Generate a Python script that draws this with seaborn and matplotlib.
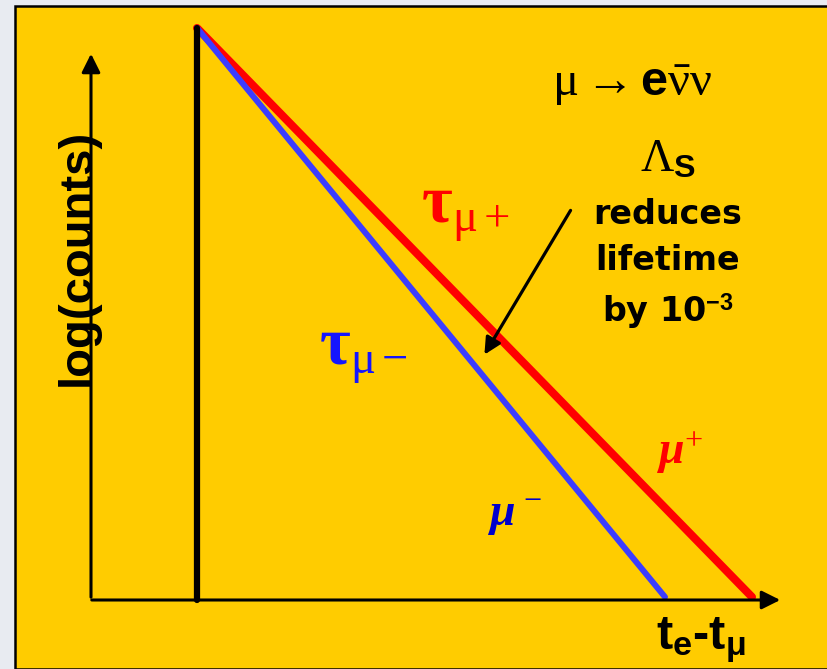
import matplotlib
matplotlib.use("Agg")
import matplotlib.pyplot as plt
from matplotlib.patches import Rectangle
import pandas as pd
import seaborn as sns

# ─── Data ───
decay_time = [0.0, 5.55, 0.0, 4.68]
log_counts = [5.72, 0.03, 5.72, 0.03]
species = ["mu_plus", "mu_plus", "mu_minus", "mu_minus"]
source_time = [0.0, 0.0]
source_counts = [0.0, 5.72]

df = pd.DataFrame({"t": decay_time, "logN": log_counts, "species": species})

YELLOW = "#FFCC00"
RED = "#FF0000"
BLUE = "#3C3CFF"

sns.set_theme(style="white")
plt.rcParams["font.family"] = ["Liberation Sans", "DejaVu Sans"]
plt.rcParams["text.color"] = "black"
plt.rcParams["mathtext.fontset"] = "custom"
plt.rcParams["mathtext.rm"] = "Liberation Serif"
plt.rcParams["mathtext.it"] = "Liberation Serif:italic"
plt.rcParams["mathtext.bf"] = "Liberation Sans:bold"
plt.rcParams["mathtext.bfit"] = "Liberation Serif:italic:bold"
plt.rcParams["mathtext.sf"] = "Liberation Sans"

fig = plt.figure(figsize=(8.27, 6.69), dpi=100)
fig.patch.set_facecolor("#E8EBF1")

# slide panel (drawn below the axes)
panel = Rectangle((15 / 827, 0), 1.0, (669 - 6) / 669, transform=fig.transFigure,
                  facecolor=YELLOW, edgecolor="black", lw=1.8, zorder=-1)
fig.patches.append(panel)

ax = fig.add_axes([0, 0, 1, 1])
ax.set_facecolor("none")

# ─── Decay lines ───
sns.lineplot(data=df[df.species == "mu_plus"], x="t", y="logN", color=RED, lw=5.8,
             ax=ax, legend=False, estimator=None, sort=False, zorder=3)
sns.lineplot(data=df[df.species == "mu_minus"], x="t", y="logN", color=BLUE, lw=4.3,
             ax=ax, legend=False, estimator=None, sort=False, zorder=3)
sns.lineplot(x=source_time, y=source_counts, color="black", lw=4.5, ax=ax,
             estimator=None, sort=False, zorder=4)
ax.set_xlim(-1.97, 6.30)
ax.set_ylim(-0.69, 6.00)
ax.axis("off")

# ─── Axes arrows ───
ax.annotate("", xy=(-1.06, 5.49), xytext=(-1.06, 0.0),
            arrowprops=dict(arrowstyle="-|>", lw=2.2, color="black", mutation_scale=28))
ax.annotate("", xy=(5.86, 0.0), xytext=(-1.08, 0.0),
            arrowprops=dict(arrowstyle="-|>", lw=2.2, color="black", mutation_scale=28))

# ─── Labels ───
ax.text(-1.19, 3.43, "log(counts)", rotation=90, ha="center", va="center",
        fontsize=34, fontweight="bold")
ax.text(5.04, -0.40, r"t$_\mathbf{e}$-t$_\mathbf{\mu}$", ha="center", va="center",
        fontsize=35, fontweight="bold")

ax.text(4.35, 5.15, r"$\mathrm{\mu}\rightarrow\mathbf{e}\mathrm{\bar{\nu}\nu}$",
        ha="center", va="center", fontsize=35)
ax.text(4.71, 4.40, r"$\mathrm{\Lambda}_{\mathbf{S}}$", ha="center", va="center", fontsize=33)
ax.text(4.71, 3.35, "reduces\nlifetime\nby 10$^{\\mathbf{-3}}$", ha="center", va="center",
        fontsize=24, fontweight="bold", family="DejaVu Sans", linespacing=1.5)

ax.text(2.69, 3.86, r"τ$_{\mathrm{\mu+}}$", ha="center", va="center", fontsize=48,
        color=RED, family="Liberation Serif", fontweight="bold")
ax.text(1.66, 2.45, r"τ$_{\mathrm{\mu-}}$", ha="center", va="center", fontsize=48,
        color="#1515FF", family="Liberation Serif", fontweight="bold")
ax.text(4.83, 1.47, r"$\boldsymbol{\mu}^{\mathrm{+}}$", ha="center", va="center", fontsize=33,
        color=RED)
ax.text(3.18, 0.84, r"$\boldsymbol{\mu}^{\ \mathrm{-}}$", ha="center", va="center", fontsize=33,
        color="#0000CC")

# annotation arrow
ax.annotate("", xy=(2.86, 2.43), xytext=(3.75, 3.92),
            arrowprops=dict(arrowstyle="-|>", lw=2.3, color="black", mutation_scale=25))

plt.savefig("out.png", dpi=100, facecolor=fig.get_facecolor())
